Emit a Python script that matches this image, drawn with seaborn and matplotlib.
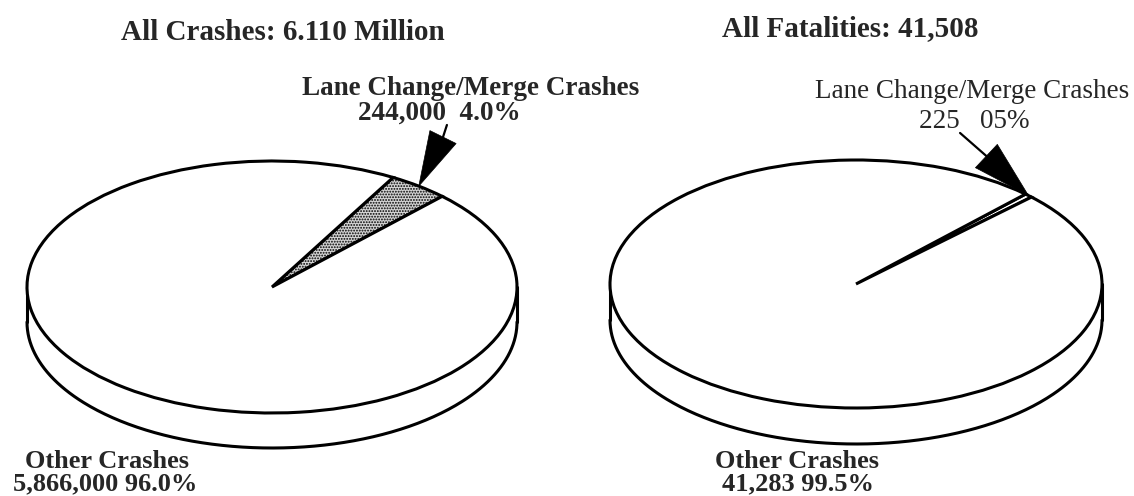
import numpy as np
import matplotlib
matplotlib.use("Agg")
import matplotlib.pyplot as plt
import seaborn as sns

# Crash and fatality breakdowns
slice_names = ["Lane Change/Merge Crashes", "Other Crashes"]
crash_counts = [244000, 5866000]
crash_labels = ["244,000  4.0%", "5,866,000 96.0%"]
fatality_counts = [225, 41283]
fatality_labels = ["225   05%", "41,283 99.5%"]
titles = ["All Crashes: 6.110 Million", "All Fatalities: 41,508"]

sns.set_theme(style="white")
plt.rcParams["font.family"] = ["Liberation Serif", "DejaVu Serif"]
plt.rcParams["hatch.linewidth"] = 0.9
plt.rcParams["hatch.color"] = "black"

W, H = 1134, 496
fig = plt.figure(figsize=(W / 100, H / 100), dpi=100)
fig.patch.set_facecolor("white")

LW = 2.2


def fx(x):
    return x / W


def fy(y):
    return 1 - y / H


def draw_pie(cx, cy, a, b, depth, values, start, shade):
    """Tilted pie: unit radius spans a px across and b px tall, with a rim."""
    ax = fig.add_axes([(cx - 1.1 * a) / W, 0, 2.2 * a / W, 1])
    wedges, _ = ax.pie(values, startangle=start, counterclock=True, radius=1,
                       colors=["white", "white"],
                       wedgeprops=dict(edgecolor="black", linewidth=LW))
    if shade:
        wedges[0].set_facecolor("#d4d4d4")
        wedges[0].set_hatch("......")
    ax.set_aspect("auto")
    ax.set_xlim(-1.1, 1.1)
    ax.set_ylim((cy - H) / b, cy / b)
    ax.axis("off")
    d = depth / b
    t = np.linspace(np.pi, 2 * np.pi, 300)
    ax.plot(np.cos(t), np.sin(t) - d, color="black", lw=LW, zorder=0)
    ax.plot([-1, -1], [0, -d], color="black", lw=LW, zorder=0)
    ax.plot([1, 1], [0, -d], color="black", lw=LW, zorder=0)
    frac = values[0] / sum(values)
    mid = np.deg2rad(start + 180 * frac)
    return ax, mid


def pointer(ax, mid, stem_top, base, width_pt):
    tip = (1.0 * np.cos(mid), 1.0 * np.sin(mid))
    ax.annotate("", xy=tip, xytext=base,
                arrowprops=dict(arrowstyle="wedge,tail_width=1.0",
                                fc="black", ec="black", lw=0.5,
                                mutation_scale=width_pt,
                                shrinkA=0, shrinkB=0))
    ax.annotate("", xy=base, xytext=stem_top,
                arrowprops=dict(arrowstyle="-", color="black", lw=1.6,
                                shrinkA=0, shrinkB=0))


# Left pie: all crashes
axL, midL = draw_pie(272, 287, 245, 126, 35, crash_counts, 46, True)
pointer(axL, midL, (0.714, 1.286), (0.698, 1.190), 21)

# Right pie: all fatalities
axR, midR = draw_pie(856, 284, 246, 124, 36, fatality_counts, 44.5, False)
pointer(axR, midR, (0.423, 1.218), (0.530, 1.032), 23)

# Titles
fig.text(fx(283), fy(40), titles[0], ha="center", va="baseline",
         fontsize=21, fontweight="bold")
fig.text(fx(850), fy(36), titles[1], ha="center", va="baseline",
         fontsize=21, fontweight="bold")

# Left labels
fig.text(fx(302), fy(95), slice_names[0], ha="left", va="baseline",
         fontsize=19.5, fontweight="bold")
fig.text(fx(358), fy(120), crash_labels[0], ha="left", va="baseline",
         fontsize=19.5, fontweight="bold")
fig.text(fx(25), fy(468), slice_names[1], ha="left", va="baseline",
         fontsize=19, fontweight="bold")
fig.text(fx(13), fy(490), crash_labels[1], ha="left", va="baseline",
         fontsize=19, fontweight="bold")

# Right labels
fig.text(fx(815), fy(98), slice_names[0], ha="left", va="baseline",
         fontsize=19.5)
fig.text(fx(919), fy(128), fatality_labels[0], ha="left", va="baseline",
         fontsize=19.5)
fig.text(fx(715), fy(468), slice_names[1], ha="left", va="baseline",
         fontsize=19, fontweight="bold")
fig.text(fx(722), fy(490), fatality_labels[1], ha="left", va="baseline",
         fontsize=19, fontweight="bold")

fig.savefig("out.png", dpi=100, facecolor="white")
